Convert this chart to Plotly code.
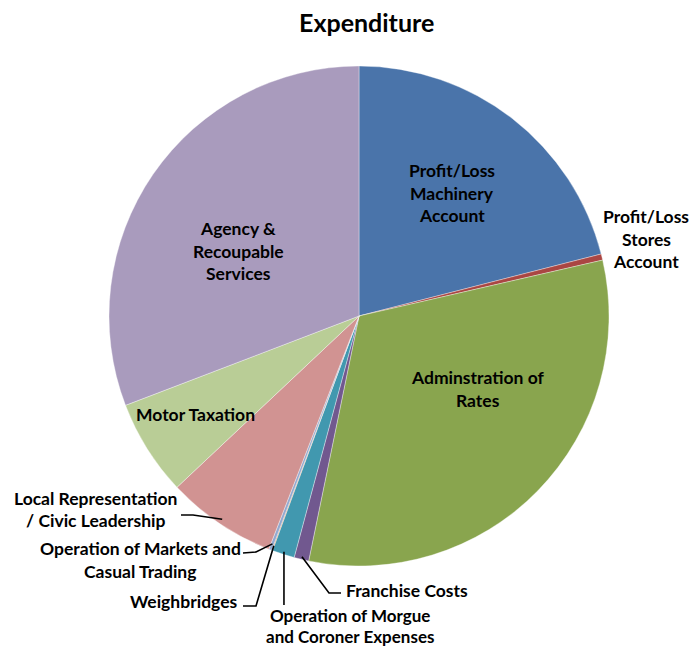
import math
import plotly.graph_objects as go

categories = [
    "Profit/Loss Machinery Account",
    "Profit/Loss Stores Account",
    "Adminstration of Rates",
    "Franchise Costs",
    "Operation of Morgue and Coroner Expenses",
    "Weighbridges",
    "Operation of Markets and Casual Trading",
    "Local Representation / Civic Leadership",
    "Motor Taxation",
    "Agency & Recoupable Services",
]
values = [21.0, 0.4, 31.8, 0.95, 1.45, 0.05, 0.2, 7.1, 6.2, 30.8]
colors = ["#4A74AA", "#AA4643", "#89A54E", "#71588F", "#4198AF",
          "#DB843D", "#93A9CF", "#D19392", "#B9CD96", "#A99BBD"]

OFF = 8  # page body margin
W, H = 698 - OFF, 647 - OFF
L, T, SIZE = 109, 66, 500   # screen position of plot area
CX, CY, R = L + SIZE / 2, T + SIZE / 2, SIZE / 2
FONT = "Lato"
FS = 17.5


def px(x):
    return (x - L) / SIZE


def py(y):
    return 1 - (y - T) / SIZE


def edge(i, frac=0.99):
    total = sum(values)
    start = sum(values[:i])
    mid = (start + values[i] / 2) / total * 2 * math.pi
    return CX + R * frac * math.sin(mid), CY - R * frac * math.cos(mid)


fig = go.Figure(go.Pie(
    labels=categories, values=values, sort=False, direction="clockwise",
    rotation=0, marker=dict(colors=colors, line=dict(width=0.6, color="rgba(255,255,255,0.6)")),
    textinfo="none", hoverinfo="label+percent", showlegend=False,
    domain=dict(x=[0, 1], y=[0, 1]),
))

annotations = []


def label(lines, x, y, spacing=22.5, anchor="center", size=FS):
    n = len(lines)
    for k, t in enumerate(lines):
        yy = y + (k - (n - 1) / 2) * spacing
        annotations.append(dict(
            text="<b>" + t + "</b>", x=px(x), y=py(yy), xref="paper", yref="paper",
            showarrow=False, xanchor=anchor, yanchor="middle",
            font=dict(family=FONT, size=size, color="#000000"),
        ))


label(["Profit/Loss", "Machinery", "Account"], 452, 193)
label(["Profit/Loss", "Stores", "Account"], 646, 239)
label(["Adminstration of", "Rates"], 478, 389)
label(["Agency &", "Recoupable", "Services"], 238, 251)
label(["Motor Taxation"], 195, 414)
label(["Local Representation", "/ Civic Leadership"], 95, 509.5)
label(["Operation of Markets and", "Casual Trading"], 140, 560)
label(["Weighbridges"], 239, 601, anchor="right")
label(["Operation of Morgue", "and Coroner Expenses"], 350, 625.5, spacing=21, size=17)
label(["Franchise Costs"], 344, 590, anchor="left")

annotations.append(dict(
    text="<b>Expenditure</b>", x=px(366), y=py(22), xref="paper", yref="paper",
    showarrow=False, xanchor="center", yanchor="middle",
    font=dict(family=FONT, size=25, color="#000000"),
))

shapes = []


def leader(points):
    d = "M " + " L ".join(f"{px(a):.5f} {py(b):.5f}" for a, b in points)
    shapes.append(dict(type="path", path=d, xref="paper", yref="paper",
                       line=dict(color="#000000", width=1.6)))


i_fr = categories.index("Franchise Costs")
i_mo = categories.index("Operation of Morgue and Coroner Expenses")
i_wb = categories.index("Weighbridges")
i_mk = categories.index("Operation of Markets and Casual Trading")
i_lr = categories.index("Local Representation / Civic Leadership")

leader([(181, 515), (193, 515), edge(i_lr, 0.98)])
leader([(243, 553), (256, 552), edge(i_mk, 0.975)])
leader([(243, 606), (256, 606), edge(i_wb, 0.98)])
ex, ey = edge(i_mo, 0.99)
leader([(ex, ey), (ex, 605)])
leader([edge(i_fr, 0.99), (329, 593), (341, 593)])

fig.update_layout(
    width=W, height=H,
    margin=dict(l=L - OFF, r=W - (L - OFF) - SIZE, t=T - OFF,
                b=H - (T - OFF) - SIZE, autoexpand=False),
    paper_bgcolor="white", plot_bgcolor="white",
    annotations=annotations, shapes=shapes,
)

fig.write_html("out.html")
